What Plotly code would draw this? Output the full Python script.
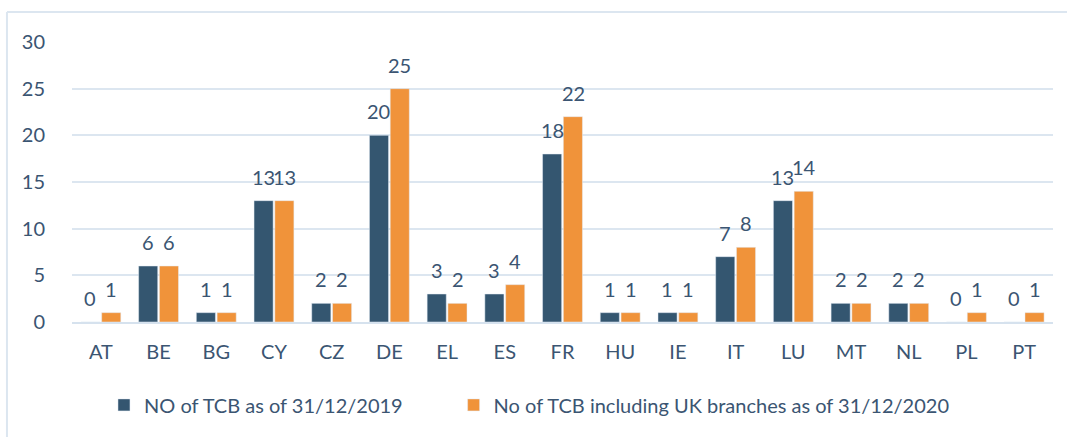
import plotly.graph_objects as go

COUNTRIES = ['AT', 'BE', 'BG', 'CY', 'CZ', 'DE', 'EL', 'ES', 'FR', 'HU', 'IE', 'IT', 'LU', 'MT', 'NL', 'PL', 'PT']
TCB_2019 = [0, 6, 1, 13, 2, 20, 3, 3, 18, 1, 1, 7, 13, 2, 2, 0, 0]
TCB_2020_UK = [1, 6, 1, 13, 2, 25, 2, 4, 22, 1, 1, 8, 14, 2, 2, 1, 1]
SERIES_NAMES = ['NO of TCB as of 31/12/2019', 'No of TCB including UK branches as of 31/12/2020']

TEXT = '#3B5572'
FONT = 'Lato'
SIZE = 20

fig = go.Figure()
fig.add_bar(x=COUNTRIES, y=TCB_2019, name=SERIES_NAMES[0], marker_color='#345670', legend='legend')
fig.add_bar(x=COUNTRIES, y=TCB_2020_UK, name=SERIES_NAMES[1], marker_color='#F0933A', legend='legend2')

# value labels, lifted a bit above each bar like the original
for values, shift in [(TCB_2019, -10.5), (TCB_2020_UK, 10.5)]:
    for c, v in zip(COUNTRIES, values):
        fig.add_annotation(x=c, y=v, text=str(v), showarrow=False, xshift=shift, yshift=10,
                           yanchor='bottom', font=dict(size=SIZE, color=TEXT, family=FONT))

leg = dict(orientation='h', xanchor='left', y=-0.296, yanchor='middle',
           font=dict(size=SIZE, color=TEXT), itemwidth=30)

fig.update_layout(
    width=1067, height=437,
    margin=dict(l=72, r=14, t=42, b=115, autoexpand=False),
    paper_bgcolor='white', plot_bgcolor='white',
    font=dict(family=FONT, size=SIZE, color=TEXT),
    barmode='group', bargap=0.28, bargroupgap=0.08,
    legend=dict(leg, x=0.0326),
    legend2=dict(leg, x=0.389),
    showlegend=True,
)
fig.update_yaxes(range=[0, 30], dtick=5, showgrid=True, gridcolor='#DCE6F0', gridwidth=2,
                 zeroline=False, showline=False, ticklabelstandoff=26,
                 tickfont=dict(size=SIZE, color=TEXT))
fig.update_xaxes(showline=True, linecolor='#D6E2EE', linewidth=2, ticks='',
                 ticklabelstandoff=11, tickfont=dict(size=SIZE, color=TEXT))

# outer chart border (top and left edges visible in the reference)
fig.add_shape(type='line', xref='paper', yref='paper', x0=-0.0663, x1=1.02, y0=1.107, y1=1.107,
              line=dict(color='#DCE6F0', width=2))
fig.add_shape(type='line', xref='paper', yref='paper', x0=-0.0663, x1=-0.0663, y0=1.107, y1=-0.42,
              line=dict(color='#DCE6F0', width=2))

fig.write_html('out.html', config={'displayModeBar': False},
               post_script="document.body.style.margin='0';")
